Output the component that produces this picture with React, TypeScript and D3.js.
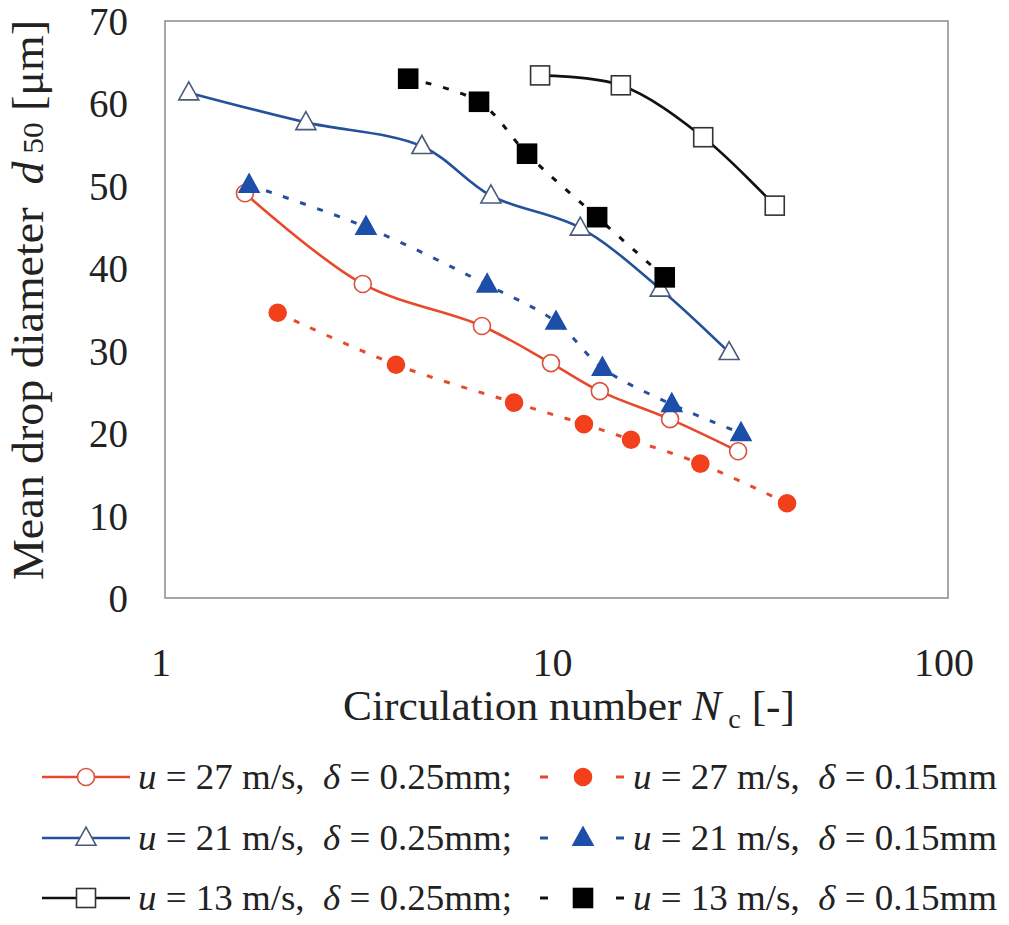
import React from "react";
import * as d3 from "d3";

// ---- data ----
const xTicks = [1, 10, 100];
const yTicks = [0, 10, 20, 30, 40, 50, 60, 70];

const u27_025_x = [1.6, 3.2, 6.45, 9.68, 12.9, 19.5, 29.1];
const u27_025_y = [49.1, 38.1, 33.0, 28.5, 25.1, 21.7, 17.8];

const u27_015_x = [1.94, 3.89, 7.79, 11.75, 15.5, 23.3, 38.8];
const u27_015_y = [34.6, 28.3, 23.7, 21.1, 19.2, 16.3, 11.5];

const u21_025_x = [1.15, 2.29, 4.53, 6.8, 11.5, 18.4, 27.6];
const u21_025_y = [61.3, 57.7, 54.8, 48.8, 44.9, 37.5, 29.8];

const u21_015_x = [1.64, 3.26, 6.65, 9.97, 13.1, 19.7, 29.6];
const u21_015_y = [50.1, 45.0, 38.0, 33.5, 27.9, 23.5, 20.0];

const u13_025_x = [9.08, 14.6, 23.7, 36.1];
const u13_025_y = [63.4, 62.2, 55.9, 47.6];

const u13_015_x = [4.18, 6.34, 8.41, 12.7, 18.9];
const u13_015_y = [63.0, 60.2, 53.9, 46.2, 38.9];

const legendSpeeds = ["27", "21", "13"];

type Series = {
  xs: number[];
  ys: number[];
  color: string;
  markerStroke: string;
  shape: "circle" | "triangle" | "square";
  filled: boolean;
  dashed: boolean;
};

const RED = "#e8492c";
const RED_FILL = "#f2401c";
const BLUE = "#23519c";
const BLUE_FILL = "#1d4fa8";
const BLACK = "#111111";

const series: Series[] = [
  { xs: u27_025_x, ys: u27_025_y, color: RED, markerStroke: "#d9533c", shape: "circle", filled: false, dashed: false },
  { xs: u27_015_x, ys: u27_015_y, color: RED, markerStroke: RED_FILL, shape: "circle", filled: true, dashed: true },
  { xs: u21_025_x, ys: u21_025_y, color: BLUE, markerStroke: "#4a5a7a", shape: "triangle", filled: false, dashed: false },
  { xs: u21_015_x, ys: u21_015_y, color: BLUE, markerStroke: BLUE_FILL, shape: "triangle", filled: true, dashed: true },
  { xs: u13_025_x, ys: u13_025_y, color: BLACK, markerStroke: "#333", shape: "square", filled: false, dashed: false },
  { xs: u13_015_x, ys: u13_015_y, color: BLACK, markerStroke: "#000", shape: "square", filled: true, dashed: true },
];

const FONT = '"Liberation Serif", "Times New Roman", Times, serif';

function Marker({ s, x, y }: { s: Series; x: number; y: number }) {
  const fill = s.filled ? (s.shape === "circle" ? RED_FILL : s.shape === "triangle" ? BLUE_FILL : "#000") : "#fff";
  if (s.shape === "circle") {
    return <circle cx={x} cy={y} r={8.5} fill={fill} stroke={s.markerStroke} strokeWidth={1.6} />;
  }
  if (s.shape === "triangle") {
    const h = 18, w = 20;
    const pts = `${x},${y - h * 0.6} ${x - w / 2},${y + h * 0.4} ${x + w / 2},${y + h * 0.4}`;
    return <polygon points={pts} fill={fill} stroke={s.markerStroke} strokeWidth={1.6} />;
  }
  const a = 19;
  return <rect x={x - a / 2} y={y - a / 2} width={a} height={a} fill={fill} stroke={s.markerStroke} strokeWidth={1.6} />;
}

export default function App() {
  const W = 1009, H = 925;
  const left = 165, right = 948, top = 21, bottom = 598;
  const x = d3.scaleLog().domain([1, 100]).range([left, right]);
  const y = d3.scaleLinear().domain([0, 70]).range([bottom, top]);

  const line = d3
    .line<[number, number]>()
    .x((d) => x(d[0]))
    .y((d) => y(d[1]))
    .curve(d3.curveCatmullRom.alpha(0.5));

  const legendRows = [0, 1, 2];
  const rowY = [777, 838, 898];
  const txt: React.CSSProperties = { fontFamily: FONT, whiteSpace: "pre" };

  return (
    <svg
      width={W}
      height={H}
      style={{ position: "absolute", left: 0, top: 0, background: "#fff", fontFamily: FONT }}
    >
      <rect x={0} y={0} width={W} height={H} fill="#fff" />
      {/* plot frame */}
      <rect x={left} y={top} width={right - left} height={bottom - top} fill="none" stroke="#8a8a8a" strokeWidth={1.5} />

      {/* y ticks */}
      {yTicks.map((t) => (
        <text key={t} x={128} y={y(t) + 14} fontSize={39} textAnchor="end" fill="#222" style={txt}>
          {t}
        </text>
      ))}
      {/* x ticks */}
      {xTicks.map((t) => (
        <text key={t} x={x(t) - 4} y={676} fontSize={40} textAnchor="middle" fill="#222" style={txt}>
          {t}
        </text>
      ))}

      {/* x title */}
      <text x={343} y={720} fontSize={43} fill="#222" textLength={452} lengthAdjust="spacingAndGlyphs" style={txt}>
        <tspan>Circulation number </tspan>
        <tspan fontStyle="italic">N</tspan>
        <tspan fontSize={28} dy={8}> c</tspan>
        <tspan dy={-8}> [-]</tspan>
      </text>

      {/* y title */}
      <text
        transform={`translate(43,300) rotate(-90)`}
        x={0}
        y={0}
        fontSize={44}
        fill="#222"
        textAnchor="middle"
        textLength={560}
        lengthAdjust="spacingAndGlyphs"
        style={txt}
      >
        <tspan>Mean drop diameter  </tspan>
        <tspan fontStyle="italic">d</tspan>
        <tspan fontSize={30}> 50</tspan>
        <tspan> [μm]</tspan>
      </text>

      {/* lines */}
      {series.map((s, i) => {
        const pts = s.xs.map((v, k) => [v, s.ys[k]] as [number, number]);
        return (
          <path
            key={"l" + i}
            d={line(pts) || ""}
            fill="none"
            stroke={s.color}
            strokeWidth={s.dashed ? 3 : 2.6}
            strokeDasharray={s.dashed ? "6,12" : undefined}
          />
        );
      })}
      {/* markers */}
      {series.map((s, i) => (
        <g key={"m" + i}>
          {s.xs.map((v, k) => (
            <Marker key={k} s={s} x={x(v)} y={y(s.ys[k])} />
          ))}
        </g>
      ))}

      {/* legend */}
      {legendRows.map((r) => {
        const solid = series[r * 2];
        const dashed = series[r * 2 + 1];
        const cy = rowY[r];
        const sp = legendSpeeds[r];
        return (
          <g key={"lg" + r}>
            <line x1={42} x2={130} y1={cy} y2={cy} stroke={solid.color} strokeWidth={2.6} />
            <Marker s={solid} x={86} y={cy} />
            <text x={138} y={cy + 12} fontSize={35} fill="#222" textLength={374} lengthAdjust="spacingAndGlyphs" style={txt}>
              <tspan fontStyle="italic">u</tspan>
              <tspan>{` = ${sp} m/s,  `}</tspan>
              <tspan fontStyle="italic">δ</tspan>
              <tspan> = 0.25mm;</tspan>
            </text>
            <line x1={540} x2={626} y1={cy} y2={cy} stroke={dashed.color} strokeWidth={3} strokeDasharray="8,30" />
            <Marker s={dashed} x={583} y={cy} />
            <text x={633} y={cy + 12} fontSize={35} fill="#222" textLength={364} lengthAdjust="spacingAndGlyphs" style={txt}>
              <tspan fontStyle="italic">u</tspan>
              <tspan>{` = ${sp} m/s,  `}</tspan>
              <tspan fontStyle="italic">δ</tspan>
              <tspan> = 0.15mm</tspan>
            </text>
          </g>
        );
      })}
    </svg>
  );
}
